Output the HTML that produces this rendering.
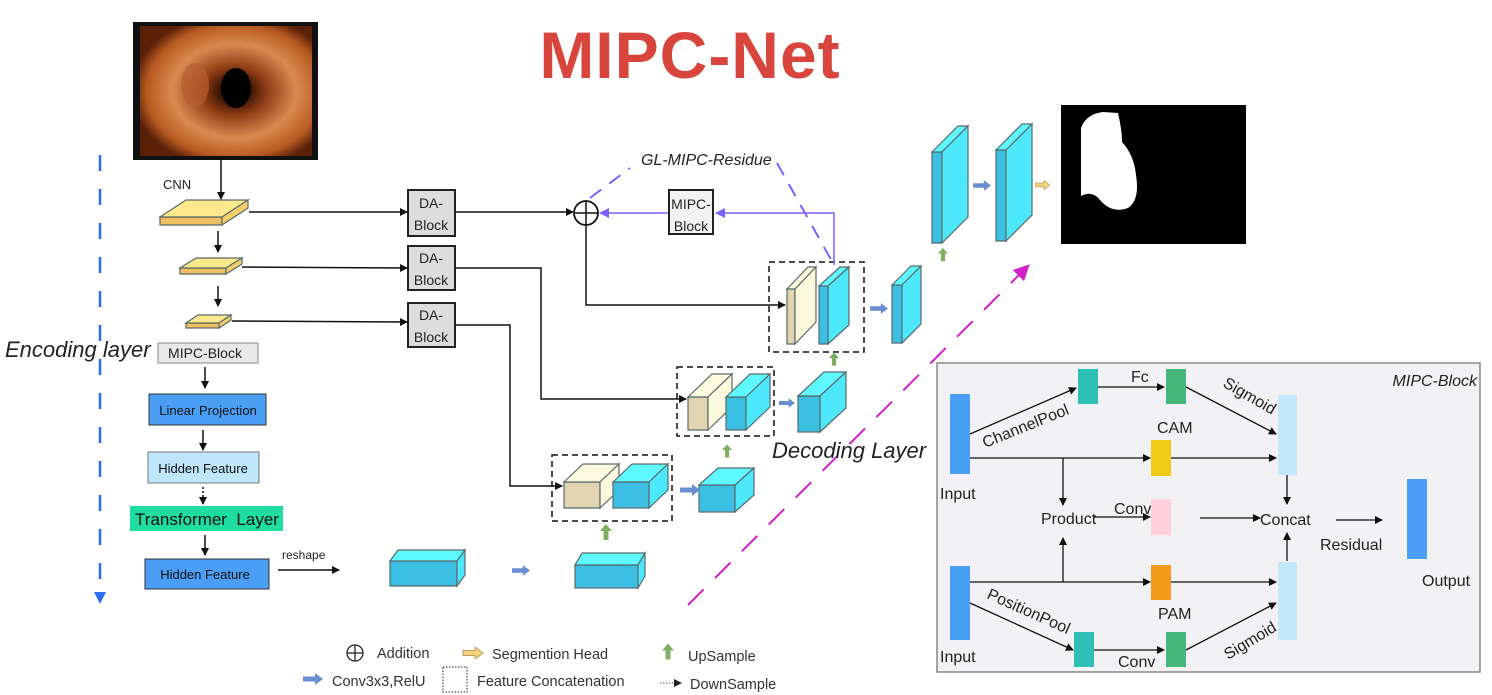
<!DOCTYPE html>
<html><head><meta charset="utf-8"><style>
html,body{margin:0;padding:0;background:#fff;}
svg{display:block;font-family:"Liberation Sans",sans-serif;}
</style></head><body>
<svg id="s" width="1492" height="695" viewBox="0 0 1492 695" xmlns="http://www.w3.org/2000/svg">
<defs>
<marker id="ab" markerWidth="8" markerHeight="8" refX="7" refY="4" orient="auto" markerUnits="userSpaceOnUse"><path d="M0,0 L8,4 L0,8z" fill="#111"/></marker>
<marker id="ap" markerWidth="10" markerHeight="10" refX="9" refY="5" orient="auto" markerUnits="userSpaceOnUse"><path d="M0,0 L10,5 L0,10z" fill="#7b61ff"/></marker>
<marker id="am" markerWidth="16" markerHeight="16" refX="8" refY="8" orient="auto" markerUnits="userSpaceOnUse"><path d="M0,0 L16,8 L0,16z" fill="#d020c8"/></marker>
<marker id="abl" markerWidth="12" markerHeight="12" refX="6" refY="6" orient="auto" markerUnits="userSpaceOnUse"><path d="M0,0 L12,6 L0,12z" fill="#2a6ef0"/></marker>
<radialGradient id="col" cx="0.55" cy="0.5" r="0.6">
<stop offset="0" stop-color="#050200"/><stop offset="0.12" stop-color="#2a0e04"/><stop offset="0.3" stop-color="#8a3a12"/><stop offset="0.6" stop-color="#d98a50"/><stop offset="0.85" stop-color="#b85a22"/><stop offset="1" stop-color="#5a2008"/></radialGradient>
<symbol id="ua" viewBox="0 0 12 16"><path d="M6,0 L12,7 L8.5,7 L8.5,16 L3.5,16 L3.5,7 L0,7z" fill="#7fb060"/></symbol>
<symbol id="ra" viewBox="0 0 20 12"><path d="M0,3.5 L12,3.5 L12,0 L20,6 L12,12 L12,8.5 L0,8.5z" fill="#6a8fd0"/></symbol>
<symbol id="ya" viewBox="0 0 20 12"><path d="M0,3.5 L12,3.5 L12,0 L20,6 L12,12 L12,8.5 L0,8.5z" fill="#f5d27a" stroke="#b8a060" stroke-width="1"/></symbol>
</defs>

<text x="690" y="78" font-size="66" fill="#d8453c" text-anchor="middle" font-weight="bold" style="letter-spacing:1px">MIPC-Net</text>

<rect x="133" y="22" width="185" height="138" fill="#111"/>
<rect x="140" y="26" width="172" height="130" fill="url(#col)"/>
<ellipse cx="236" cy="88" rx="15" ry="20" fill="#000"/>
<ellipse cx="195" cy="85" rx="14" ry="22" fill="#b86030" opacity="0.7"/>

<rect x="1061" y="105" width="185" height="139" fill="#000"/>
<path d="M1081,128 Q1086,114 1103,112 L1118,113 Q1122,130 1122,142 Q1134,155 1136,175 Q1140,200 1128,208 Q1112,214 1100,200 Q1092,190 1081,196 Z" fill="#fff"/>

<line x1="100" y1="155" x2="100" y2="598" stroke="#2a6ef0" stroke-width="2.5" stroke-dasharray="16,18" marker-end="url(#abl)"/>
<text x="5" y="357" font-size="22" font-style="italic" fill="#222">Encoding layer</text>

<text x="163" y="189" font-size="13" fill="#222">CNN</text>
<g stroke="#111" stroke-width="1.5" fill="none">
<line x1="221" y1="160" x2="221" y2="199" marker-end="url(#ab)"/>
<line x1="218" y1="231" x2="218" y2="252" marker-end="url(#ab)"/>
<line x1="218" y1="286" x2="218" y2="306" marker-end="url(#ab)"/>
<line x1="249" y1="212" x2="407" y2="212" marker-end="url(#ab)"/>
<line x1="242" y1="267" x2="407" y2="268" marker-end="url(#ab)"/>
<line x1="232" y1="321" x2="407" y2="322" marker-end="url(#ab)"/>
<line x1="205" y1="367" x2="205" y2="388" marker-end="url(#ab)"/>
<line x1="203" y1="430" x2="203" y2="450" marker-end="url(#ab)"/>
<line x1="203" y1="487" x2="203" y2="504" stroke-dasharray="2,2" marker-end="url(#ab)"/>
<line x1="205" y1="535" x2="205" y2="555" marker-end="url(#ab)"/>
<line x1="278" y1="570" x2="339" y2="570" marker-end="url(#ab)"/>
<polyline points="455,325 510,325 510,486 562,486" marker-end="url(#ab)"/>
<polyline points="455,268 541,268 541,399 686,399" marker-end="url(#ab)"/>
<line x1="455" y1="212" x2="573" y2="212" marker-end="url(#ab)"/>
<polyline points="586,225 586,305 785,305" marker-end="url(#ab)"/>
</g>

<g font-size="14" fill="#222" text-anchor="middle">
<rect x="408" y="190" width="47" height="46" fill="#ddd" stroke="#222" stroke-width="2"/>
<text x="431" y="208">DA-</text><text x="431" y="230">Block</text>
<rect x="408" y="246" width="47" height="44" fill="#ddd" stroke="#222" stroke-width="2"/>
<text x="431" y="263">DA-</text><text x="431" y="285">Block</text>
<rect x="408" y="303" width="47" height="44" fill="#ddd" stroke="#222" stroke-width="2"/>
<text x="431" y="320">DA-</text><text x="431" y="342">Block</text>
</g>

<rect x="158" y="343" width="100" height="20" fill="#e8e8e8" stroke="#888"/>
<text x="205" y="358" font-size="14" fill="#222" text-anchor="middle">MIPC-Block</text>
<rect x="149" y="394" width="117" height="31" fill="#4a9ff5" stroke="#333"/>
<text x="208" y="415" font-size="13" fill="#111" text-anchor="middle">Linear Projection</text>
<rect x="148" y="452" width="111" height="31" fill="#bfe6fb" stroke="#777"/>
<text x="203" y="473" font-size="13" fill="#111" text-anchor="middle">Hidden Feature</text>
<rect x="130" y="506" width="153" height="25" fill="#1fdca0"/>
<text x="207" y="525" font-size="17" fill="#111" text-anchor="middle" xml:space="preserve">Transformer  Layer</text>
<rect x="145" y="559" width="124" height="30" fill="#4a9ff5" stroke="#333"/>
<text x="205" y="579" font-size="13" fill="#111" text-anchor="middle">Hidden Feature</text>
<text x="282" y="559" font-size="12" fill="#222">reshape</text>

<g id="cubes"></g>

<g fill="none" stroke="#111" stroke-width="1.5" stroke-dasharray="6,4">
<rect x="552" y="455" width="120" height="66"/>
<rect x="677" y="367" width="97" height="69"/>
<rect x="769" y="262" width="95" height="90"/>
</g>

<use href="#ra" x="512" y="565" width="18" height="11"/>
<use href="#ra" x="680" y="484" width="20" height="12"/>
<use href="#ra" x="779" y="398" width="16" height="10"/>
<use href="#ra" x="870" y="303" width="18" height="11"/>
<use href="#ra" x="973" y="180" width="18" height="11"/>
<use href="#ya" x="1035" y="180" width="15" height="10"/>
<use href="#ua" x="600" y="524" width="12" height="16"/>
<use href="#ua" x="722" y="444" width="10" height="14"/>
<use href="#ua" x="829" y="352" width="10" height="14"/>
<use href="#ua" x="938" y="247" width="10" height="15"/>

<circle cx="586" cy="213" r="12" fill="#fff" stroke="#111" stroke-width="1.8"/>
<line x1="574" y1="213" x2="598" y2="213" stroke="#111" stroke-width="1.5"/>
<line x1="586" y1="201" x2="586" y2="225" stroke="#111" stroke-width="1.5"/>

<polyline points="834,265 834,213 716,213" fill="none" stroke="#7b61ff" stroke-width="1.5" marker-end="url(#ap)"/>
<line x1="669" y1="213" x2="600" y2="213" stroke="#7b61ff" stroke-width="1.5" marker-end="url(#ap)"/>
<rect x="669" y="190" width="44" height="44" fill="#f2f2f2" stroke="#222" stroke-width="2"/>
<text x="691" y="209" font-size="14" fill="#222" text-anchor="middle">MIPC-</text>
<text x="691" y="231" font-size="14" fill="#222" text-anchor="middle">Block</text>
<g stroke="#7b61ff" stroke-width="2" stroke-dasharray="14,10" fill="none">
<line x1="590" y1="198" x2="630" y2="168"/>
<line x1="777" y1="163" x2="834" y2="265"/>
</g>
<text x="641" y="165" font-size="16" font-style="italic" fill="#222">GL-MIPC-Residue</text>

<line x1="688" y1="605" x2="1024" y2="270" stroke="#d020c8" stroke-width="2" stroke-dasharray="22,16" marker-end="url(#am)"/>
<text x="772" y="458" font-size="22" font-style="italic" fill="#222">Decoding Layer</text>

<rect x="937" y="363" width="543" height="309" fill="#f2f2f4" stroke="#888" stroke-width="1.5"/>
<text x="1477" y="386" font-size="16" font-style="italic" fill="#222" text-anchor="end">MIPC-Block</text>
<g stroke="#111" stroke-width="1.3" fill="none">
<line x1="970" y1="434" x2="1076" y2="388" marker-end="url(#ab)"/>
<line x1="1097" y1="387" x2="1164" y2="387" marker-end="url(#ab)"/>
<line x1="1186" y1="387" x2="1276" y2="434" marker-end="url(#ab)"/>
<line x1="970" y1="458" x2="1150" y2="458" marker-end="url(#ab)"/>
<line x1="1063" y1="458" x2="1063" y2="505" marker-end="url(#ab)"/>
<line x1="1171" y1="458" x2="1276" y2="458" marker-end="url(#ab)"/>
<line x1="1287" y1="475" x2="1287" y2="504" marker-end="url(#ab)"/>
<line x1="1093" y1="517" x2="1150" y2="517" marker-end="url(#ab)"/>
<line x1="1200" y1="518" x2="1260" y2="518" marker-end="url(#ab)"/>
<line x1="1336" y1="520" x2="1382" y2="520" marker-end="url(#ab)"/>
<line x1="1287" y1="561" x2="1287" y2="533" marker-end="url(#ab)"/>
<line x1="970" y1="582" x2="1150" y2="582" marker-end="url(#ab)"/>
<line x1="1063" y1="582" x2="1063" y2="538" marker-end="url(#ab)"/>
<line x1="1171" y1="582" x2="1276" y2="582" marker-end="url(#ab)"/>
<line x1="970" y1="603" x2="1073" y2="650" marker-end="url(#ab)"/>
<line x1="1094" y1="650" x2="1164" y2="650" marker-end="url(#ab)"/>
<line x1="1186" y1="650" x2="1276" y2="603" marker-end="url(#ab)"/>
</g>
<rect x="950" y="394" width="20" height="80" fill="#4a9ff5"/>
<rect x="950" y="566" width="20" height="74" fill="#4a9ff5"/>
<rect x="1078" y="369" width="20" height="35" fill="#2ebfb6"/>
<rect x="1166" y="369" width="20" height="35" fill="#45b878"/>
<rect x="1074" y="632" width="20" height="35" fill="#2ebfb6"/>
<rect x="1166" y="632" width="20" height="35" fill="#45b878"/>
<rect x="1278" y="395" width="19" height="80" fill="#c4e8fb"/>
<rect x="1278" y="562" width="19" height="78" fill="#c4e8fb"/>
<rect x="1151" y="440" width="20" height="36" fill="#f0cb18"/>
<rect x="1151" y="499" width="20" height="36" fill="#ffd0d8"/>
<rect x="1151" y="565" width="20" height="35" fill="#f39a18"/>
<rect x="1407" y="479" width="20" height="80" fill="#4a9ff5"/>
<g font-size="16" fill="#222">
<text x="940" y="499">Input</text>
<text x="940" y="662">Input</text>
<text x="1131" y="382">Fc</text>
<text x="1157" y="433">CAM</text>
<text x="1041" y="524">Product</text>
<text x="1114" y="514">Conv</text>
<text x="1260" y="525">Concat</text>
<text x="1320" y="550">Residual</text>
<text x="1422" y="586">Output</text>
<text x="1158" y="619">PAM</text>
<text x="1118" y="667">Conv</text>
<text transform="translate(985,448) rotate(-22)">ChannelPool</text>
<text transform="translate(1222,386) rotate(30)">Sigmoid</text>
<text transform="translate(986,598) rotate(24)">PositionPool</text>
<text transform="translate(1228,660) rotate(-31)">Sigmoid</text>
</g>

<g font-size="14.5" fill="#333">
<circle cx="355" cy="653" r="8" fill="none" stroke="#222" stroke-width="1.3"/>
<line x1="347" y1="653" x2="363" y2="653" stroke="#222" stroke-width="1.3"/>
<line x1="355" y1="645" x2="355" y2="661" stroke="#222" stroke-width="1.3"/>
<text x="377" y="658">Addition</text>
<use href="#ya" x="462" y="647" width="22" height="12"/>
<text x="492" y="659">Segmention Head</text>
<use href="#ua" x="662" y="643" width="12" height="17"/>
<text x="688" y="661">UpSample</text>
<use href="#ra" x="302" y="673" width="22" height="12"/>
<text x="332" y="686">Conv3x3,RelU</text>
<rect x="443" y="667" width="24" height="25" fill="none" stroke="#222" stroke-dasharray="1.5,1.5"/>
<text x="477" y="686">Feature Concatenation</text>
<line x1="660" y1="683" x2="674" y2="683" stroke="#555" stroke-dasharray="1.5,1.5"/>
<path d="M674,679 L682,683 L674,687z" fill="#222"/>
<text x="690" y="689">DownSample</text>
</g>

<script>
(function(){
var g=document.getElementById('cubes'),NS='http://www.w3.org/2000/svg';
var C={c:['#3bbfe3','#5ef8ff','#4de8fb'],b:['#e2d4b0','#fefbe0','#fdf9dc'],y:['#efc060','#fbe98c','#f3cf6c']};
function cube(x,y,w,h,dx,dy,t){var c=C[t];
 var p=[[c[0],[[x,y],[x+w,y],[x+w,y+h],[x,y+h]]],[c[1],[[x,y],[x+dx,y-dy],[x+w+dx,y-dy],[x+w,y]]],[c[2],[[x+w,y],[x+w+dx,y-dy],[x+w+dx,y+h-dy],[x+w,y+h]]]];
 p.forEach(function(q){var e=document.createElementNS(NS,'polygon');e.setAttribute('points',q[1].map(function(a){return a.join(',')}).join(' '));e.setAttribute('fill',q[0]);e.setAttribute('stroke','#5a6a6a');e.setAttribute('stroke-width','1.2');g.appendChild(e);});}
cube(160,217,62,8,26,17,'y');
cube(180,268,46,6,16,10,'y');
cube(186,323,33,5,12,8,'y');
cube(390,561,67,25,8,11,'c');
cube(575,565,63,23,7,12,'c');
cube(564,482,36,26,19,18,'b');
cube(613,482,36,26,19,18,'c');
cube(699,485,36,27,19,17,'c');
cube(688,397,20,33,24,23,'b');
cube(726,397,20,33,24,23,'c');
cube(798,396,22,36,26,24,'c');
cube(787,289,8,55,21,22,'b');
cube(819,286,9,58,21,19,'c');
cube(892,285,10,58,19,19,'c');
cube(932,152,10,91,26,26,'c');
cube(996,150,10,91,26,26,'c');
})();
</script>
</svg>
</body></html>
